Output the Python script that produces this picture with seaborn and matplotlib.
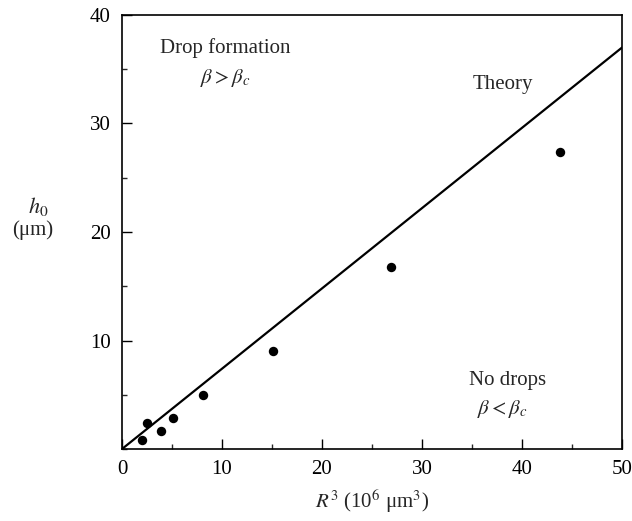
import matplotlib
matplotlib.use("Agg")
import matplotlib.pyplot as plt
import seaborn as sns
import pandas as pd
from matplotlib.ticker import MultipleLocator, FixedLocator

# Data
r3_values = [1.97, 2.47, 3.9, 5.1, 8.13, 15.1, 26.9, 43.8]
h0_values = [0.83, 2.4, 1.66, 2.9, 4.98, 9.06, 16.8, 27.4]
theory_x = [0.0, 50.0]
theory_y = [0.0, 37.0]
x_ticks = [0, 10, 20, 30, 40, 50]
y_ticks = [10, 20, 30, 40]

sns.set_theme(style="ticks")
plt.rcParams["font.family"] = ["Liberation Serif", "DejaVu Serif"]
plt.rcParams["mathtext.fontset"] = "stix"

fig = plt.figure(figsize=(6.32, 5.21), dpi=100)
ax = fig.add_axes([122 / 632, 1 - 449 / 521, 500 / 632, 434 / 521])

pts = pd.DataFrame({"R3": r3_values, "h0": h0_values})
th = pd.DataFrame({"R3": theory_x, "h0": theory_y})

sns.lineplot(data=th, x="R3", y="h0", ax=ax, color="black", linewidth=1.6)
sns.scatterplot(data=pts, x="R3", y="h0", ax=ax, color="black", s=46,
                edgecolor="black", linewidth=0, zorder=3)

ax.set_xlim(0, 50)
ax.set_ylim(0, 40)
ax.xaxis.set_major_locator(FixedLocator(x_ticks))
ax.yaxis.set_major_locator(FixedLocator(y_ticks))
ax.xaxis.set_minor_locator(MultipleLocator(5))
ax.yaxis.set_minor_locator(MultipleLocator(5))
ax.tick_params(which="major", direction="in", length=7, width=1.0,
               labelsize=15, colors="black", pad=8)
ax.tick_params(which="minor", direction="in", length=3.5, width=1.0)
for s in ax.spines.values():
    s.set_color("black")
    s.set_linewidth(1.2)

ax.set_xlabel(r"$R^3$ (10$^6$ μm$^3$)", fontsize=15, labelpad=6)
ax.set_ylabel("")
ax.text(-0.168, 0.558, r"$h_0$", transform=ax.transAxes, fontsize=16,
        ha="center", va="center")
ax.text(-0.178, 0.505, "(μm)", transform=ax.transAxes, fontsize=15,
        ha="center", va="center")

ax.text(10.3, 37.0, "Drop formation", fontsize=15, ha="center", va="center")
ax.text(10.3, 34.2, r"$\beta > \beta_c$", fontsize=15, ha="center", va="center")
ax.text(38.1, 33.6, "Theory", fontsize=15, ha="center", va="center")
ax.text(38.6, 6.3, "No drops", fontsize=15, ha="center", va="center")
ax.text(38.0, 3.7, r"$\beta < \beta_c$", fontsize=15, ha="center", va="center")

fig.savefig("out.png", dpi=100)
